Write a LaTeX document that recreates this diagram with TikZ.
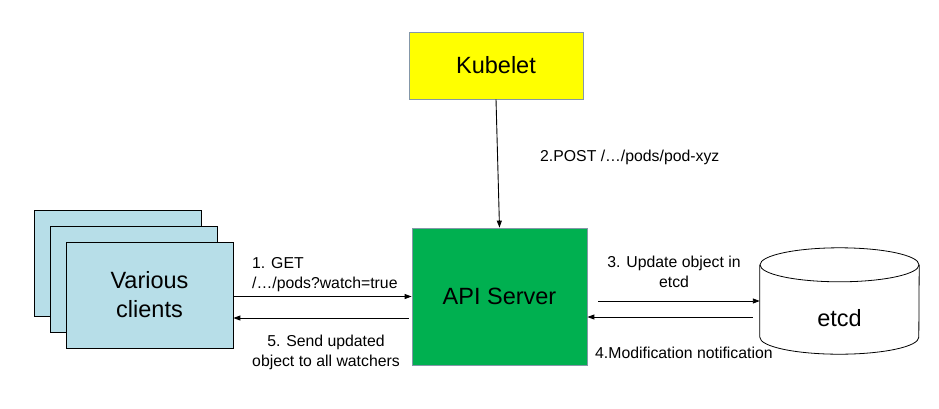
\documentclass[tikz,border=0pt]{standalone}
\usepackage{fontspec}
\setmainfont{Liberation Sans}
\usepackage{tikz}
\usetikzlibrary{arrows.meta,positioning}
\definecolor{kubeyellow}{HTML}{FFFF00}
\definecolor{apigreen}{HTML}{00B050}
\definecolor{clientblue}{HTML}{B7DEE8}
\definecolor{boxgray}{HTML}{8497A8}
\tikzstyle{arr}   =[-{Triangle[length=7pt,width=5pt]}, line width=0.9pt]
\tikzstyle{block} =[rectangle, draw=boxgray, line width=0.8pt,
                    font=\fontsize{23.5}{28.5}\selectfont, align=center]
\tikzstyle{client}=[rectangle, draw=black, fill=clientblue, line width=0.8pt,
                    minimum width=167pt, minimum height=106pt,
                    font=\fontsize{23.5}{29}\selectfont, align=center]
\tikzstyle{lbl}   =[inner sep=0pt, font=\fontsize{15.8}{20}\selectfont]

\begin{document}
\begin{tikzpicture}[x=1pt, y=-1pt]
    \useasboundingbox (0,0) rectangle (939,408);
    \node[block, fill=kubeyellow, minimum width=174pt, minimum height=67pt]
        (kubelet) at (496,65.5) {Kubelet};
    \node[block, fill=apigreen, minimum width=175pt, minimum height=137pt]
        (api) at (499.5,296.5) {API Server};
    % stacked clients, back to front
    \foreach \i in {2,1}
        \node[client] (c\i) at (149.5-16*\i, 295-16*\i) {};
    \node[client] (c0) at (149.5,295) {Various\\clients};
    % etcd store
    \node[minimum width=159pt, minimum height=106pt, inner sep=0pt]
        (db) at (839.5,301) {};
    \draw[line width=0.8pt, fill=white] ([yshift=-17pt]db.north west)
        -- ([yshift=17pt]db.south west)
        arc[start angle=180, end angle=360, x radius=79.5pt, y radius=17pt]
        -- ([yshift=-17pt]db.north east);
    \draw[line width=0.8pt] ([yshift=-17pt]db.north)
        ellipse [x radius=79.5pt, y radius=17pt];
    \node[font=\fontsize{23.5}{28.5}\selectfont] (etcd) at ([yshift=-17pt]db.center) {etcd};

    \draw[arr] (kubelet.south) -- (api.north);
    \draw[arr] (api.west -| c0.east) -- (api.west);
    \draw[arr] ([xshift=-3pt,yshift=-21.5pt]api.west) -- ([yshift=-21.5pt]api.west -| c0.east);
    \draw[arr, shorten <=11pt] (db.west -| api.east) -- (db.west);
    \draw[arr, shorten <=7pt] ([yshift=-16pt]db.west) -- ([yshift=-16pt]db.west -| api.east);

    \node[lbl, anchor=west] (l2) at (540,157) {2.POST /…/pods/pod-xyz};
    \node[lbl, anchor=west, align=left] (l1) at (252,275) {1. GET\\/…/pods?watch=true};
    \node[lbl, align=center] (l5) at (326,352.5) {5. Send updated\\object to all watchers};
    \node[lbl, align=center] (l3) at (674,272) {3. Update object in\\etcd};
    \node[lbl, anchor=west] (l4) at (595,353) {4.Modification notification};
\end{tikzpicture}
\end{document}
